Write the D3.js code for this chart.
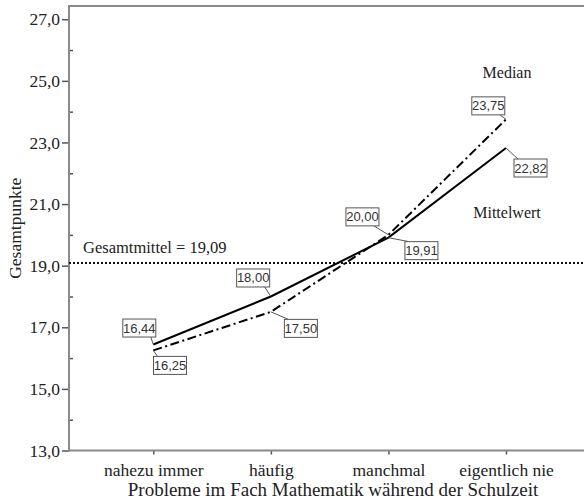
<!DOCTYPE html>
<html><head><meta charset="utf-8">
<script src="https://cdn.jsdelivr.net/npm/d3@7"></script>
<style>
body{margin:0;background:#fff;}
svg{display:block;}
</style></head>
<body>
<svg id="chart" width="584" height="503"></svg>
<script>
// ---- data ----
const categories = ["nahezu immer", "häufig", "manchmal", "eigentlich nie"];
const meanValues = [16.44, 18.00, 19.91, 22.82];     // Mittelwert (solid)
const medianValues = [16.25, 17.50, 20.00, 23.75];   // Median (dash-dot)
const grandMean = 19.09;
const yTickValues = [13, 15, 17, 19, 21, 23, 25, 27];
const yMinorTickValues = [14, 16, 18, 20, 22, 24, 26];
const xTitle = "Probleme im Fach Mathematik während der Schulzeit";
const yTitle = "Gesamtpunkte";
const grandMeanLabel = "Gesamtmittel = 19,09";
const seriesNames = ["Mittelwert", "Median"];

(function () {
// ---- layout ----
const serif = "'Liberation Serif', 'Times New Roman', serif";
const sans = "'Liberation Sans', Arial, sans-serif";
const pLeft = 69, pTop = 6, pBottom = 450.5, pRight = 600;
const fmt = v => d3.format(".1f")(v).replace(".", ",");
const fmt2 = v => d3.format(".2f")(v).replace(".", ",");

const svg = d3.select("#chart");
const x = d3.scalePoint().domain(categories).range([153.3, 506]);
const y = d3.scaleLinear().domain([13, 27.43]).range([pBottom, pTop]);

// frame (top border)
svg.append("line").attr("x1", pLeft).attr("x2", pRight).attr("y1", pTop).attr("y2", pTop)
  .attr("stroke", "#8a8a8a").attr("stroke-width", 2);

// y axis
const yAxis = d3.axisLeft(y).tickValues(yTickValues).tickFormat(fmt).tickSize(7).tickPadding(2);
const gy = svg.append("g").attr("transform", `translate(${pLeft},0)`).call(yAxis);
gy.select(".domain").remove();
gy.selectAll(".tick line").attr("stroke", "#555").attr("stroke-width", 1.5);
gy.selectAll(".tick text").attr("font-family", serif).attr("font-size", 17.5).attr("fill", "#222");
const gyMinor = svg.append("g").attr("transform", `translate(${pLeft},0)`)
  .call(d3.axisRight(y).tickValues(yMinorTickValues).tickFormat("").tickSize(4));
gyMinor.select(".domain").remove();
gyMinor.selectAll(".tick line").attr("stroke", "#555").attr("stroke-width", 1.5);
svg.append("line").attr("x1", pLeft).attr("x2", pLeft).attr("y1", pTop - 1).attr("y2", pBottom + 1)
  .attr("stroke", "#8a8a8a").attr("stroke-width", 2);

// x axis
const gx = svg.append("g").attr("transform", `translate(0,${pBottom})`)
  .call(d3.axisBottom(x).tickSize(4).tickPadding(9));
gx.select(".domain").remove();
gx.selectAll(".tick line").attr("stroke", "#555").attr("stroke-width", 1.5);
gx.selectAll(".tick text").attr("font-family", serif).attr("font-size", 17.5).attr("fill", "#222");
svg.append("line").attr("x1", pLeft - 1).attr("x2", pRight).attr("y1", pBottom).attr("y2", pBottom)
  .attr("stroke", "#8a8a8a").attr("stroke-width", 2);

// axis titles
svg.append("text").attr("x", 333).attr("y", 496).attr("text-anchor", "middle")
  .attr("font-family", serif).attr("font-size", 19).attr("fill", "#222").text(xTitle);
svg.append("text").attr("transform", `translate(21,${(pTop + pBottom) / 2}) rotate(-90)`)
  .attr("text-anchor", "middle").attr("font-family", serif).attr("font-size", 17.5)
  .attr("fill", "#222").text(yTitle);

// grand mean reference line
svg.append("line").attr("x1", pLeft).attr("x2", pRight).attr("y1", y(grandMean)).attr("y2", y(grandMean))
  .attr("stroke", "#111").attr("stroke-width", 2).attr("stroke-dasharray", "2,2");
svg.append("text").attr("x", 83).attr("y", y(grandMean) - 10)
  .attr("font-family", serif).attr("font-size", 16.5).attr("fill", "#222").text(grandMeanLabel);

// lines
const line = d3.line().x((d, i) => x(categories[i])).y(d => y(d));
svg.append("path").datum(meanValues).attr("d", line).attr("fill", "none")
  .attr("stroke", "#000").attr("stroke-width", 2);
svg.append("path").datum(medianValues).attr("d", line).attr("fill", "none")
  .attr("stroke", "#000").attr("stroke-width", 2).attr("stroke-dasharray", "9,3.5,2,3.5");

// series labels (placed near the last category)
svg.append("text").attr("x", 507).attr("y", y(medianValues[3]) - 41).attr("text-anchor", "middle")
  .attr("font-family", serif).attr("font-size", 16).attr("fill", "#222").text(seriesNames[1]);
svg.append("text").attr("x", 507).attr("y", y(meanValues[3]) + 70).attr("text-anchor", "middle")
  .attr("font-family", serif).attr("font-size", 16).attr("fill", "#222").text(seriesNames[0]);

// value labels: higher value goes above-left, lower below-right
const aboveOffsets = [[-14, -16.5], [-17.7, -18.5], [-26, -18], [-17.7, -13.5]];
const belowOffsets = [[16.7, 15], [30, 16.5], [33, 13], [24.5, 20]];
const labels = [];
categories.forEach((c, i) => {
  const m = meanValues[i], md = medianValues[i];
  const hi = Math.max(m, md), lo = Math.min(m, md);
  labels.push({ cx: x(c), v: hi, pos: "above", off: aboveOffsets[i] });
  labels.push({ cx: x(c), v: lo, pos: "below", off: belowOffsets[i] });
});
const bw = 33, bh = 18;
const lg = svg.append("g");
labels.forEach(l => {
  const px = l.cx, py = y(l.v);
  const cx = px + l.off[0], cy = py + l.off[1];
  const x0 = cx - bw / 2, y0 = cy - bh / 2;
  let tx, ty;
  if (l.pos === "above") { tx = x0 + bw - 5; ty = y0 + bh; }
  else { tx = x0 + 4; ty = y0; }
  lg.append("line").attr("x1", px).attr("y1", py).attr("x2", tx).attr("y2", ty)
    .attr("stroke", "#555").attr("stroke-width", 1);
  lg.append("rect").attr("x", x0).attr("y", y0).attr("width", bw).attr("height", bh)
    .attr("fill", "#fff").attr("stroke", "#555").attr("stroke-width", 1);
  lg.append("text").attr("x", cx).attr("y", cy + 4.5).attr("text-anchor", "middle")
    .attr("font-family", sans).attr("font-size", 13).attr("fill", "#333").text(fmt2(l.v));
});
})();
</script>
</body></html>
